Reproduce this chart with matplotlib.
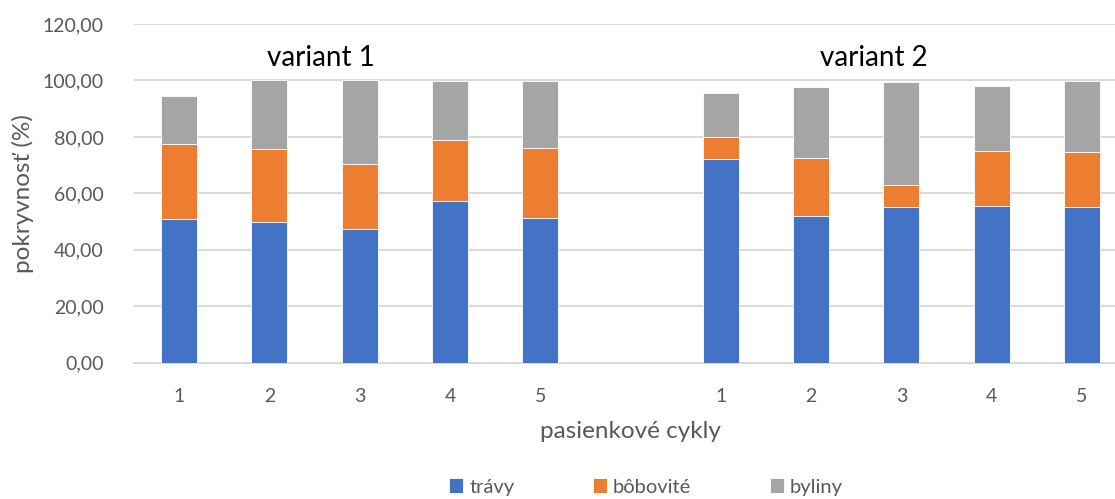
import matplotlib
matplotlib.use("Agg")
import matplotlib.pyplot as plt
import numpy as np

plt.rcParams['font.family'] = ['Lato', 'DejaVu Sans']

cycles = ["1", "2", "3", "4", "5"]
variants = ["variant 1", "variant 2"]
series_names = ["trávy", "bôbovité", "byliny"]
colors = ["#4472C4", "#ED7D31", "#A5A5A5"]

# coverage per grazing cycle (%)
travy_v1 = [50.9, 49.9, 47.3, 57.4, 51.4]
bobovite_v1 = [26.7, 25.9, 23.2, 21.6, 24.8]
byliny_v1 = [17.0, 24.2, 29.5, 20.8, 23.6]

travy_v2 = [72.3, 51.8, 55.0, 55.4, 55.0]
bobovite_v2 = [7.8, 20.9, 8.0, 19.7, 19.8]
byliny_v2 = [15.5, 25.1, 36.3, 23.0, 25.0]

yticks = [0, 20, 40, 60, 80, 100, 120]

W, H = 1115, 499
fig = plt.figure(figsize=(W / 100, H / 100), dpi=100)
left, right, top, bottom = 134, 1127, 24, 362.7
ax = fig.add_axes([left / W, 1 - bottom / H, (right - left) / W, (bottom - top) / H])

# two groups of five cycles separated by an empty slot
pos_v1 = np.arange(5)
pos_v2 = np.arange(6, 11)

def stack(pos, a, b, c):
    a, b, c = map(np.array, (a, b, c))
    bars = []
    bars.append(ax.bar(pos, a, 0.4, color=colors[0], edgecolor="white", linewidth=0.6, zorder=3))
    bars.append(ax.bar(pos, b, 0.4, bottom=a, color=colors[1], edgecolor="white", linewidth=0.6, zorder=3))
    bars.append(ax.bar(pos, c, 0.4, bottom=a + b, color=colors[2], edgecolor="white", linewidth=0.6, zorder=3))
    return bars

handles = stack(pos_v1, travy_v1, bobovite_v1, byliny_v1)
stack(pos_v2, travy_v2, bobovite_v2, byliny_v2)

ax.set_xlim(-0.5, 10.5)
ax.set_ylim(0, 120)
ax.set_yticks(yticks)
ax.set_yticklabels([f"{v:.2f}".replace(".", ",") for v in yticks])
ax.set_xticks(np.concatenate([pos_v1, pos_v2]))
ax.set_xticklabels(cycles + cycles)
ax.tick_params(axis="both", length=0, labelsize=14, colors="#595959")
ax.tick_params(axis="x", pad=18)
ax.tick_params(axis="y", pad=22)

ax.grid(axis="y", color="#D9D9D9", linewidth=1.4, zorder=0)
for s in ["top", "right", "left"]:
    ax.spines[s].set_visible(False)
ax.spines["bottom"].set_color("#D9D9D9")
ax.spines["bottom"].set_linewidth(1.4)

ax.set_ylabel("pokryvnosť (%)", fontsize=17.5, color="#595959", labelpad=6)
ax.set_xlabel("pasienkové cykly", fontsize=17.5, color="#595959", labelpad=12)

ax.text(1.57, 108, variants[0], ha="center", va="center", fontsize=20, color="black")
ax.text(7.7, 108, variants[1], ha="center", va="center", fontsize=20, color="black")

fig.legend([h[0] for h in handles], series_names, loc="center",
           bbox_to_anchor=(646 / W, 1 - 487 / H), ncol=3, frameon=False,
           fontsize=14.5, handlelength=0.7, handleheight=0.7, handletextpad=0.3,
           columnspacing=3.9, labelcolor="#595959")

fig.savefig("out.png", dpi=100)
